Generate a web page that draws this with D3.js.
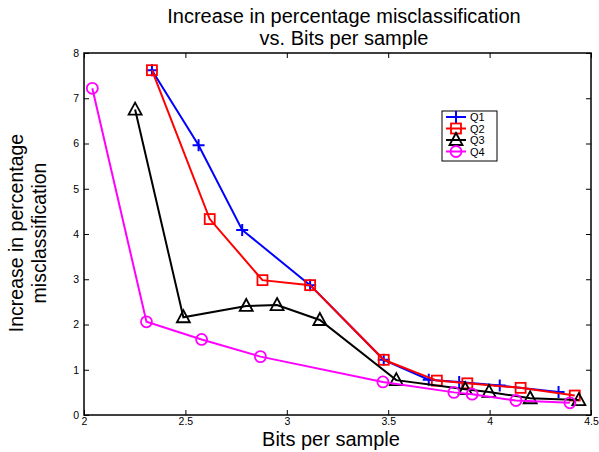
<!DOCTYPE html>
<html>
<head>
<meta charset="utf-8">
<script src="https://cdn.jsdelivr.net/npm/d3@7"></script>
<style>
  body { margin: 0; background: #fff; }
  svg { font-family: "Liberation Sans", Arial, Helvetica, sans-serif; }
</style>
</head>
<body>
<svg id="chart" width="599" height="452"></svg>
<script>
// data
var seriesNames = ["Q1", "Q2", "Q3", "Q4"];

var q1 = [[2.335, 7.62], [2.565, 5.96], [2.78, 4.09], [3.115, 2.87], [3.478, 1.22],
          [3.70, 0.78], [3.85, 0.73], [4.05, 0.65], [4.34, 0.51]];
var q2 = [[2.335, 7.62], [2.62, 4.33], [2.88, 2.98], [3.115, 2.87], [3.478, 1.22],
          [3.74, 0.76], [3.89, 0.70], [4.153, 0.60], [4.42, 0.43]];
var q3 = [[2.252, 6.75], [2.49, 2.16], [2.80, 2.41], [2.952, 2.43], [3.163, 2.10],
          [3.54, 0.77], [3.88, 0.57], [3.997, 0.51], [4.20, 0.37], [4.44, 0.33]];
var q4 = [[2.041, 7.22], [2.308, 2.06], [2.58, 1.67], [2.87, 1.29], [3.474, 0.73],
          [3.824, 0.50], [3.914, 0.46], [4.13, 0.32], [4.396, 0.27]];

var xTicks = [2, 2.5, 3, 3.5, 4, 4.5];
var yTicks = [0, 1, 2, 3, 4, 5, 6, 7, 8];

var colors = ["#0000ff", "#ff0000", "#000000", "#ff00ff"];
var symbols = ["plus", "square", "triangle", "circle"];

var margin = ({top: 53, right: 8, bottom: 37, left: 84}),
    width = 599,
    height = 452;

var x = d3.scaleLinear()
    .domain([2, 4.5])
    .range([margin.left, width - margin.right]);

var y = d3.scaleLinear()
    .domain([0, 8])
    .range([height - margin.bottom, margin.top]);

var svg = d3.select("svg#chart");

// marker drawing
var drawMarker = (g, type, color) => {
    if (type == "plus") {
        g.append("path").attr("d", "M-6,0H6M0,-6V6")
            .attr("stroke", color).attr("stroke-width", 2).attr("fill", "none");
    } else if (type == "square") {
        g.append("rect").attr("x", -5).attr("y", -5).attr("width", 10).attr("height", 10)
            .attr("stroke", color).attr("stroke-width", 1.8).attr("fill", "none");
    } else if (type == "triangle") {
        g.append("path").attr("d", "M0,-7L6.5,5L-6.5,5Z")
            .attr("stroke", color).attr("stroke-width", 1.8).attr("fill", "none");
    } else {
        g.append("circle").attr("r", 5.5)
            .attr("stroke", color).attr("stroke-width", 1.8).attr("fill", "none");
    }
};

// axes box with inward ticks (matlab style)
var xAxis = g => g
    .attr("transform", `translate(0,${height - margin.bottom})`)
    .call(d3.axisBottom(x).tickValues(xTicks).tickSize(-5).tickPadding(3)
        .tickFormat(d => d))
    .call(g => g.select(".domain").remove());

var xAxisTop = g => g
    .attr("transform", `translate(0,${margin.top})`)
    .call(d3.axisTop(x).tickValues(xTicks).tickSize(-5).tickFormat(""))
    .call(g => g.select(".domain").remove());

var yAxis = g => g
    .attr("transform", `translate(${margin.left},0)`)
    .call(d3.axisLeft(y).tickValues(yTicks).tickSize(-5).tickPadding(5))
    .call(g => g.select(".domain").remove());

var yAxisRight = g => g
    .attr("transform", `translate(${width - margin.right},0)`)
    .call(d3.axisRight(y).tickValues(yTicks).tickSize(-5).tickFormat(""))
    .call(g => g.select(".domain").remove());

[xAxis, xAxisTop, yAxis, yAxisRight].forEach(a => {
    svg.append("g").call(a)
        .call(g => g.selectAll(".tick line").attr("stroke", "#000").attr("stroke-width", 1))
        .call(g => g.selectAll(".tick text").attr("fill", "#000")
            .style("font-size", "10.5px").style("font-family", "Liberation Sans, Arial, sans-serif"));
});

svg.append("rect")
    .attr("x", margin.left).attr("y", margin.top)
    .attr("width", width - margin.right - margin.left)
    .attr("height", height - margin.bottom - margin.top)
    .attr("fill", "none").attr("stroke", "#000").attr("stroke-width", 1.5);

var line = d3.line()
    .x(d => x(d[0]))
    .y(d => y(d[1]));

[q1, q2, q3, q4].forEach((data, i) => {
    svg.append("path")
        .attr("d", line(data))
        .attr("fill", "none")
        .attr("stroke", colors[i])
        .attr("stroke-width", 2);
    data.forEach(d => {
        var m = svg.append("g").attr("transform", `translate(${x(d[0])},${y(d[1])})`);
        drawMarker(m, symbols[i], colors[i]);
    });
});

// title
var title = svg.append("text")
    .attr("text-anchor", "middle")
    .attr("font-size", 20)
    .attr("fill", "#000");
title.append("tspan").attr("x", 344).attr("y", 23)
    .text("Increase in percentage misclassification");
title.append("tspan").attr("x", 344).attr("y", 45)
    .text("vs. Bits per sample");

// axis labels
svg.append("text")
    .attr("x", 331)
    .attr("y", 446)
    .attr("text-anchor", "middle")
    .attr("font-size", 20)
    .text("Bits per sample");

var yl = svg.append("text")
    .attr("transform", `translate(0,233) rotate(-90)`)
    .attr("text-anchor", "middle")
    .attr("font-size", 19.5);
yl.append("tspan").attr("x", 0).attr("y", 23).text("Increase in percentage");
yl.append("tspan").attr("x", 0).attr("y", 46).text("misclassification");

// legend
var legend = svg.append("g");
legend.append("rect")
    .attr("x", 442).attr("y", 111).attr("width", 55).attr("height", 50)
    .attr("fill", "#fff").attr("stroke", "#000").attr("stroke-width", 1);

seriesNames.forEach((name, i) => {
    var ly = 117 + i * 11.5;
    legend.append("line")
        .attr("x1", 446).attr("x2", 466).attr("y1", ly).attr("y2", ly)
        .attr("stroke", colors[i]).attr("stroke-width", 2);
    var m = legend.append("g").attr("transform", `translate(456,${ly})`);
    drawMarker(m, symbols[i], colors[i]);
    legend.append("text")
        .attr("x", 470).attr("y", ly + 4)
        .attr("font-size", 11)
        .text(name);
});
</script>
</body>
</html>
